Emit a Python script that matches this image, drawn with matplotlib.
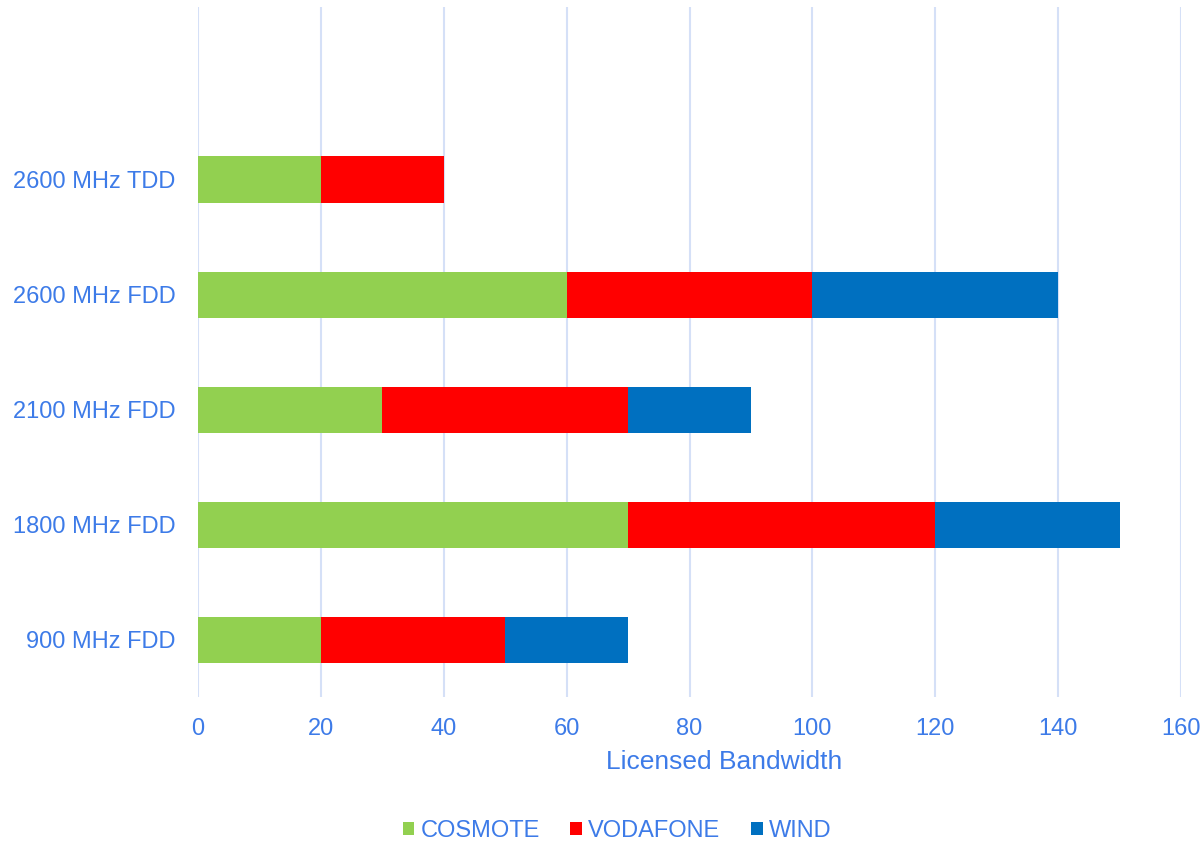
import numpy as np
import matplotlib.pyplot as plt

plt.rcParams['font.family'] = ['Liberation Sans', 'DejaVu Sans']

categories = ['900 MHz FDD', '1800 MHz FDD', '2100 MHz FDD', '2600 MHz FDD', '2600 MHz TDD', '']
cosmote = [20, 70, 30, 60, 20, 0]
vodafone = [30, 50, 40, 40, 20, 0]
wind = [20, 30, 20, 40, 0, 0]
xticks = [0, 20, 40, 60, 80, 100, 120, 140, 160]

text_color = '#3D7BE8'
grid_color = '#D5E0F7'

fig = plt.figure(figsize=(12.01, 8.41), dpi=100)
ax = fig.add_axes([198 / 1201, 1 - 697 / 841, 983 / 1201, 690 / 841])

y = np.arange(len(categories))
c = np.array(cosmote)
v = np.array(vodafone)
w = np.array(wind)
h = 0.4
ax.barh(y, c, height=h, color='#92D050', label='COSMOTE', zorder=3)
ax.barh(y, v, height=h, left=c, color='#FF0000', label='VODAFONE', zorder=3)
ax.barh(y, w, height=h, left=c + v, color='#0070C0', label='WIND', zorder=3)

ax.set_xlim(0, 160)
ax.set_ylim(-0.5, len(categories) - 0.5)
ax.set_xticks(xticks)
ax.set_yticks(y)
ax.set_yticklabels(categories)
ax.tick_params(axis='both', length=0, labelsize=17, colors=text_color)
ax.tick_params(axis='y', pad=16)
ax.tick_params(axis='x', pad=15)
ax.grid(axis='x', color=grid_color, linewidth=1.5, zorder=0)
for s in ax.spines.values():
    s.set_visible(False)

ax.set_xlabel('Licensed Bandwidth', fontsize=19, color=text_color)
ax.xaxis.set_label_coords((724 - 198) / 983, -0.077)

fig.legend(loc='center', bbox_to_anchor=(617 / 1201, 1 - 831 / 841), ncol=3,
           frameon=False, fontsize=17, labelcolor=text_color,
           handlelength=0.5, handleheight=0.5, handletextpad=0.25, columnspacing=1.3)

fig.savefig('out.png', dpi=100)
